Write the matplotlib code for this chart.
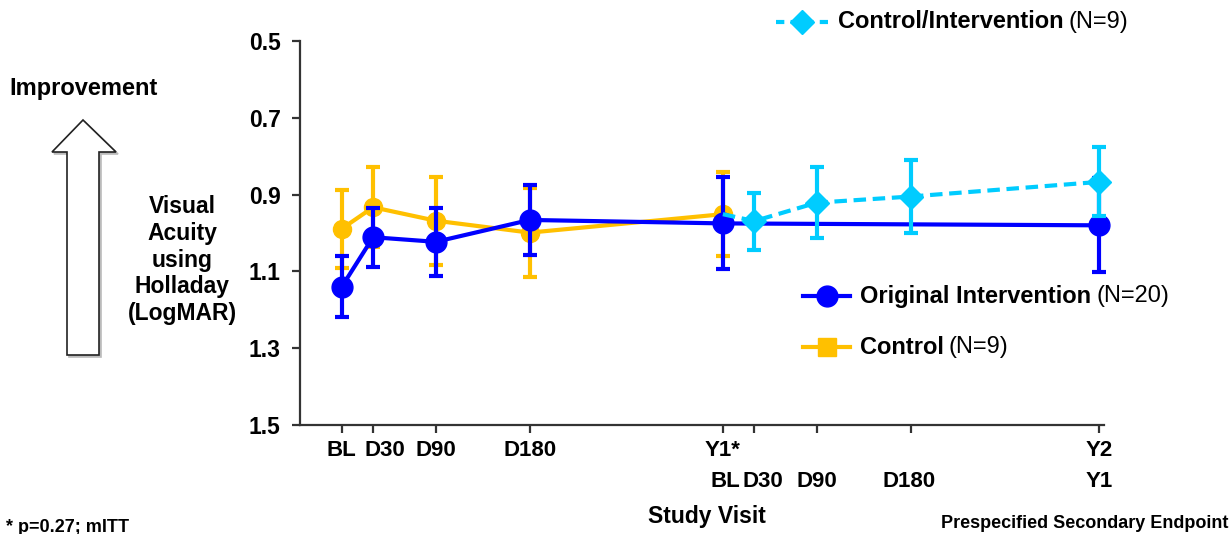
import matplotlib
matplotlib.use("Agg")
import matplotlib.pyplot as plt
from matplotlib.lines import Line2D
from matplotlib.patches import Polygon
from matplotlib.transforms import ScaledTranslation, blended_transform_factory

plt.rcParams['font.family'] = ['Liberation Sans', 'DejaVu Sans']

# ---- data ----
# x positions in study days
orig_x = [0, 30, 90, 180, 365, 725]
orig_y = [1.140, 1.011, 1.023, 0.966, 0.975, 0.980]
orig_err = [0.080, 0.077, 0.088, 0.092, 0.120, 0.122]

ctrl_x = [0, 30, 90, 180, 365]
ctrl_y = [0.989, 0.933, 0.968, 0.999, 0.951]
ctrl_err = [0.102, 0.104, 0.115, 0.116, 0.110]

ci_x = [365, 395, 455, 545, 725]
ci_y = [0.951, 0.969, 0.921, 0.905, 0.867]
ci_err = [0.0, 0.074, 0.093, 0.095, 0.090]

tick_x = [0, 30, 90, 180, 365, 395, 455, 545, 725]
row1_x = [0, 30, 90, 180, 365, 725]
row1_labels = ['BL', 'D30', 'D90', 'D180', 'Y1*', 'Y2']
row1_dx = [0, 12, 0, 0, 0, 0]
row2_x = [365, 395, 455, 545, 725]
row2_labels = ['BL', 'D30', 'D90', 'D180', 'Y1']
row2_dx = [2, 9, 0, -2, 0]

yticks = [0.5, 0.7, 0.9, 1.1, 1.3, 1.5]

BLUE = '#0000FF'
GOLD = '#FFC000'
CYAN = '#00CCFF'
DARK = '#333333'

W, H = 1230, 534
fig = plt.figure(figsize=(W / 100, H / 100), dpi=100)
ax = fig.add_axes([300 / W, 1 - 425 / H, (1104 - 300) / W, (425 - 41) / H])

ax.set_xlim(-40, 730)
ax.set_ylim(1.5, 0.5)

# Control (gold)
ax.errorbar(ctrl_x, ctrl_y, yerr=ctrl_err, color=GOLD, lw=3, marker='o', ms=13,
            elinewidth=3, capsize=5, capthick=3, zorder=2, clip_on=False)
# Original intervention (blue)
ax.errorbar(orig_x, orig_y, yerr=orig_err, color=BLUE, lw=3, marker='o', ms=15,
            elinewidth=3, capsize=5, capthick=3, zorder=3, clip_on=False)
# Control/Intervention (cyan)
ax.errorbar(ci_x[1:], ci_y[1:], yerr=ci_err[1:], color=CYAN, lw=0, marker='D', ms=12,
            elinewidth=3, capsize=5, capthick=3, zorder=4, ls='none', clip_on=False)
ax.plot(ci_x, ci_y, color=CYAN, lw=3, ls=(0, (3, 1.6)), zorder=4)

# axes styling
for s in ['top', 'right']:
    ax.spines[s].set_visible(False)
for s in ['left', 'bottom']:
    ax.spines[s].set_color(DARK)
    ax.spines[s].set_linewidth(1.6)
ax.set_yticks(yticks)
ax.set_yticklabels([f'{v:.1f}' for v in yticks], fontsize=16.5, fontweight='bold')
ax.tick_params(axis='y', direction='out', length=6, width=1.6, color=DARK, pad=8)
ax.set_xticks(tick_x)
ax.set_xticklabels([])
ax.tick_params(axis='x', direction='out', length=6, width=1.6, color=DARK)

trans = blended_transform_factory(ax.transData, ax.transAxes)
for x, lab, dx in zip(row1_x, row1_labels, row1_dx):
    ax.text(x, 0, lab, transform=trans + ScaledTranslation(dx / 100, -26 / 100, fig.dpi_scale_trans),
            ha='center', va='center', fontsize=16, fontweight='bold')
for x, lab, dx in zip(row2_x, row2_labels, row2_dx):
    ax.text(x, 0, lab, transform=trans + ScaledTranslation(dx / 100, -57 / 100, fig.dpi_scale_trans),
            ha='center', va='center', fontsize=16, fontweight='bold')

def fx(px):
    return px / W

def fy(py):
    return 1 - py / H

fig.text(fx(707), fy(516), 'Study Visit', ha='center', va='center', fontsize=16.5, fontweight='bold')
fig.text(fx(6), fy(519), '* p=0.27; mITT', ha='left', va='top', fontsize=13, fontweight='bold')
fig.text(fx(1228), fy(524), 'Prespecified Secondary Endpoint', ha='right', va='center',
         fontsize=13, fontweight='bold')

fig.text(fx(84), fy(89), 'Improvement', ha='center', va='center', fontsize=17, fontweight='bold')
fig.text(fx(182), fy(260), 'Visual\nAcuity\nusing\nHolladay\n(LogMAR)', ha='center', va='center',
         fontsize=16.5, fontweight='bold', linespacing=1.22)

# hollow arrow
arrow_pts = [(67, 355), (99, 355), (99, 152), (116, 152), (83, 120), (52, 152), (67, 152)]
shadow = Polygon([(fx(x + 2), fy(y + 2)) for x, y in arrow_pts], closed=True,
                 transform=fig.transFigure, facecolor='#bbbbbb', edgecolor='#bbbbbb', lw=1.2)
fig.patches.append(shadow)
arrow = Polygon([(fx(x), fy(y)) for x, y in arrow_pts], closed=True,
                transform=fig.transFigure, facecolor='white', edgecolor='#222222', lw=1.2)
fig.patches.append(arrow)

# manual legends
fig.canvas.draw()
renderer = fig.canvas.get_renderer()

def legend_entry(x0, x1, y, color, marker, ms, ls, bold, normal):
    ln = Line2D([fx(x0), fx(x1)], [fy(y), fy(y)], transform=fig.transFigure, color=color,
                lw=3, ls=ls)
    fig.lines.append(ln)
    mk = Line2D([fx((x0 + x1) / 2)], [fy(y)], transform=fig.transFigure, color=color,
                marker=marker, ms=ms, ls='none')
    fig.lines.append(mk)
    t = fig.text(fx(x1 + 10), fy(y), bold, ha='left', va='center', fontsize=17, fontweight='bold')
    bb = t.get_window_extent(renderer)
    fig.text(fx(x1 + 10) + (bb.width + 5) / W, fy(y), normal, ha='left', va='center', fontsize=17)

legend_entry(776, 828, 22, CYAN, 'D', 12, (0, (2, 1.5)), 'Control/Intervention', '(N=9)')
legend_entry(803, 850, 296, BLUE, 'o', 15, '-', 'Original Intervention', '(N=20)')
legend_entry(803, 850, 347, GOLD, 's', 13, '-', 'Control', '(N=9)')

fig.savefig('out.png', dpi=100)
